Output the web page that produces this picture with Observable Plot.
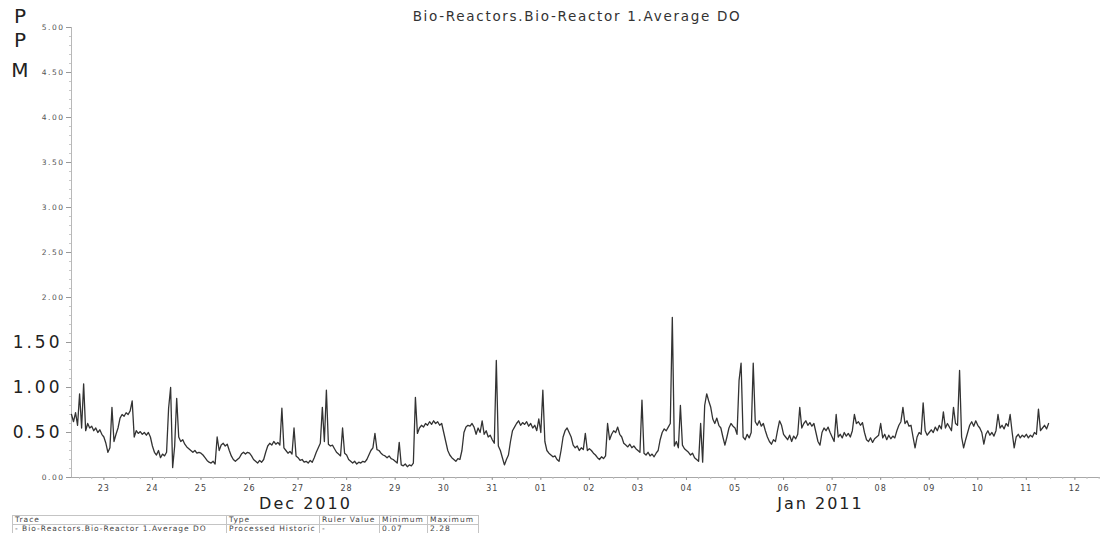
<!DOCTYPE html>
<html>
<head>
<meta charset="utf-8">
<script src="https://cdn.jsdelivr.net/npm/d3@7"></script>
<script src="https://cdn.jsdelivr.net/npm/@observablehq/plot@0.6"></script>
<style>
  html, body { margin: 0; padding: 0; background: #fff; overflow: hidden; }
  #wrap { position: relative; width: 1105px; height: 533px; overflow: hidden; font-family: "DejaVu Sans", Verdana, sans-serif; }
  #chart { position: absolute; left: 0; top: 0; }
  #title { position: absolute; left: 277px; width: 600px; top: 10px; text-align: center; font-size: 13.5px; line-height: 13.5px; letter-spacing: 1.7px; color: #333; white-space: nowrap; }
  .ppm { position: absolute; left: 5px; width: 30px; text-align: center; font-size: 20px; line-height: 20px; color: #222; }
  #tbl { position: absolute; left: 12px; top: 515px; border-collapse: collapse; table-layout: fixed; font-size: 7.5px; letter-spacing: 1px; color: #444; }
  #tbl td { border: 1px solid #c4c4c4; height: 8px; line-height: 8px; padding: 0 0 0 2px; white-space: nowrap; overflow: hidden; }
  g[font-size="17"] { letter-spacing: 3px; }
  g[font-size="7.5"] { letter-spacing: 1.5px; }
  g[font-size="8"] { letter-spacing: 1px; }
  g[font-size="16"] { letter-spacing: 2px; }
</style>
</head>
<body>
<div id="wrap">
  <div id="chart"></div>
  <div id="title"></div>
  <div id="ppm"></div>
  <table id="tbl"></table>
</div>
<script>
// ---- data: hourly readings (PPM), first sample 22 Dec 2010 08:00 ----
const firstSample = Date.UTC(2010, 11, 22, 8);
const dec22 = [0.70,0.62,0.72,0.58,0.93,0.55,1.04,0.52,0.60,0.55,0.57,0.52,0.55,0.50,0.53,0.48];
const dec23 = [0.45,0.38,0.28,0.33,0.78,0.40,0.48,0.55,0.66,0.70,0.68,0.72,0.70,0.74,0.85,0.45,0.52,0.49,0.51,0.48,0.50,0.47,0.50,0.45];
const dec24 = [0.35,0.28,0.25,0.30,0.22,0.26,0.24,0.28,0.77,1.00,0.11,0.35,0.88,0.45,0.40,0.42,0.37,0.34,0.32,0.30,0.28,0.30,0.27,0.28];
const dec25 = [0.27,0.25,0.22,0.19,0.17,0.16,0.18,0.15,0.45,0.30,0.36,0.38,0.35,0.37,0.30,0.24,0.20,0.18,0.20,0.22,0.26,0.28,0.26,0.28];
const dec26 = [0.27,0.24,0.20,0.18,0.16,0.19,0.17,0.20,0.28,0.35,0.38,0.36,0.40,0.37,0.39,0.36,0.77,0.33,0.30,0.27,0.29,0.26,0.55,0.24];
const dec27 = [0.22,0.19,0.20,0.17,0.18,0.16,0.19,0.17,0.22,0.28,0.33,0.38,0.78,0.40,0.97,0.37,0.35,0.36,0.32,0.28,0.26,0.24,0.55,0.27];
const dec28 = [0.25,0.20,0.18,0.16,0.18,0.15,0.17,0.16,0.18,0.17,0.20,0.25,0.30,0.33,0.49,0.31,0.30,0.27,0.25,0.24,0.22,0.24,0.21,0.20];
const dec29 = [0.18,0.16,0.39,0.14,0.13,0.15,0.12,0.14,0.13,0.16,0.89,0.49,0.55,0.58,0.56,0.60,0.58,0.62,0.59,0.63,0.60,0.62,0.58,0.60];
const dec30 = [0.50,0.40,0.30,0.25,0.22,0.20,0.18,0.21,0.20,0.30,0.50,0.56,0.58,0.57,0.60,0.56,0.48,0.55,0.50,0.63,0.48,0.52,0.45,0.47];
const dec31 = [0.42,0.38,1.30,0.35,0.30,0.22,0.14,0.20,0.25,0.40,0.52,0.56,0.60,0.63,0.58,0.61,0.59,0.62,0.57,0.60,0.55,0.58,0.52,0.65];
const jan01 = [0.50,0.97,0.40,0.30,0.27,0.25,0.23,0.24,0.20,0.18,0.30,0.45,0.52,0.55,0.50,0.45,0.36,0.33,0.35,0.30,0.33,0.31,0.49,0.30];
const jan02 = [0.32,0.30,0.27,0.25,0.22,0.20,0.23,0.21,0.24,0.60,0.42,0.48,0.52,0.50,0.56,0.48,0.45,0.38,0.36,0.34,0.37,0.33,0.35,0.32];
const jan03 = [0.30,0.28,0.86,0.27,0.25,0.28,0.24,0.26,0.23,0.27,0.30,0.42,0.50,0.54,0.52,0.56,0.60,1.78,0.35,0.40,0.33,0.80,0.36,0.32];
const jan04 = [0.30,0.28,0.25,0.27,0.22,0.20,0.18,0.60,0.17,0.80,0.93,0.85,0.78,0.65,0.60,0.66,0.58,0.55,0.45,0.36,0.45,0.55,0.60,0.57];
const jan05 = [0.55,0.48,1.08,1.27,0.45,0.42,0.48,0.44,0.50,1.27,0.62,0.58,0.63,0.57,0.60,0.52,0.45,0.40,0.37,0.42,0.40,0.52,0.63,0.58];
const jan06 = [0.48,0.45,0.42,0.47,0.40,0.46,0.43,0.48,0.78,0.55,0.60,0.63,0.58,0.61,0.57,0.60,0.50,0.40,0.36,0.50,0.55,0.52,0.56,0.50];
const jan07 = [0.45,0.40,0.70,0.45,0.48,0.44,0.50,0.46,0.49,0.45,0.52,0.70,0.60,0.62,0.58,0.61,0.50,0.42,0.40,0.44,0.39,0.43,0.45,0.47];
const jan08 = [0.60,0.44,0.48,0.42,0.47,0.43,0.46,0.44,0.52,0.58,0.62,0.78,0.60,0.63,0.57,0.58,0.45,0.33,0.45,0.50,0.48,0.83,0.52,0.47];
const jan09 = [0.50,0.53,0.50,0.56,0.52,0.58,0.54,0.73,0.55,0.60,0.56,0.52,0.78,0.60,0.58,1.19,0.45,0.33,0.42,0.50,0.58,0.62,0.57,0.63];
const jan10 = [0.58,0.55,0.50,0.37,0.48,0.52,0.47,0.50,0.46,0.52,0.70,0.55,0.58,0.54,0.60,0.57,0.70,0.50,0.33,0.45,0.48,0.44,0.47,0.45];
const jan11 = [0.48,0.44,0.47,0.45,0.50,0.48,0.76,0.52,0.55,0.58,0.54,0.60];

// ---- axis / text content ----
const titleText = "Bio-Reactors.Bio-Reactor 1.Average DO";
const yAxisLetters = ["P", "P", "M"];
const smallYTicks = [0, 2.0, 2.5, 3.0, 3.5, 4.0, 4.5, 5.0];
const bigYTicks = [0.5, 1.0, 1.5];
const monthLabels = [
  {date: new Date(Date.UTC(2010, 11, 27, 3, 40)), label: "Dec 2010"},
  {date: new Date(Date.UTC(2011, 0, 6, 18, 15)), label: "Jan 2011"}
];
const tableHeader = ["Trace", "Type", "Ruler Value", "Minimum", "Maximum"];
const tableRow = ["-  Bio-Reactors.Bio-Reactor 1.Average DO", "Processed Historic", "-", "0.07", "2.28"];
const tableColWidths = [214, 93, 60, 48, 51];

// ---- build ----
const values = [].concat(dec22, dec23, dec24, dec25, dec26, dec27, dec28, dec29, dec30, dec31,
  jan01, jan02, jan03, jan04, jan05, jan06, jan07, jan08, jan09, jan10, jan11);
const data = values.map((v, i) => ({t: new Date(firstSample + i * 3600e3), v}));

const xDomain = [new Date(Date.UTC(2010, 11, 22, 8)), new Date(Date.UTC(2011, 0, 12, 12, 40))];
const dayTicks = d3.utcDay.range(new Date(Date.UTC(2010, 11, 23)), new Date(Date.UTC(2011, 0, 12, 1)));
const minorX = d3.utcHour.every(6).range(xDomain[0], xDomain[1]);
const minorY = d3.range(0, 51).map(i => i / 10);

const plot = Plot.plot({
  width: 1105,
  height: 533,
  marginLeft: 71,
  marginRight: 5,
  marginTop: 27,
  marginBottom: 56,
  style: {fontFamily: "DejaVu Sans, Verdana, sans-serif", background: "transparent", overflow: "visible"},
  x: {type: "utc", domain: xDomain, axis: null, label: null},
  y: {domain: [0, 5], axis: null, label: null},
  marks: [
    Plot.ruleX([xDomain[0]], {stroke: "#b8b8b8"}),
    Plot.axisY(minorY, {tickSize: 2, text: null, stroke: "#c8c8c8", label: null}),
    Plot.axisY(smallYTicks.concat(bigYTicks), {tickSize: 5, text: null, stroke: "#999", label: null}),
    Plot.axisY(smallYTicks, {tickSize: 0, tickPadding: 7, tickFormat: d3.format(".2f"), fontSize: 7.5, fill: "#555", label: null}),
    Plot.axisY(bigYTicks, {tickSize: 0, tickPadding: 9, tickFormat: d3.format(".2f"), fontSize: 17, fill: "#222", label: null}),
    Plot.ruleY([0], {stroke: "#a8a8a8"}),
    Plot.axisX(minorX, {tickSize: 2, text: null, stroke: "#c0c0c0", label: null}),
    Plot.axisX(dayTicks, {tickSize: 3, text: null, stroke: "#999", label: null}),
    Plot.axisX(dayTicks, {tickSize: 0, tickPadding: 8, tickFormat: d3.utcFormat("%d"), fontSize: 8, fill: "#444", label: null}),
    Plot.text(monthLabels, {x: "date", y: 0, text: "label", dy: 26, fontSize: 16, fill: "#222"}),
    Plot.line(data, {x: "t", y: "v", stroke: "#333", strokeWidth: 1.3})
  ]
});
document.getElementById("chart").appendChild(plot);

document.getElementById("title").textContent = titleText;
const ppm = document.getElementById("ppm");
yAxisLetters.forEach((ch, i) => {
  const d = document.createElement("div");
  d.className = "ppm";
  d.style.top = [6, 30, 60][i] + "px";
  d.textContent = ch;
  ppm.appendChild(d);
});

const tbl = document.getElementById("tbl");
const cg = document.createElement("colgroup");
tableColWidths.forEach(w => { const c = document.createElement("col"); c.style.width = w + "px"; cg.appendChild(c); });
tbl.appendChild(cg);
[tableHeader, tableRow].forEach(row => {
  const tr = document.createElement("tr");
  row.forEach(cell => { const td = document.createElement("td"); td.textContent = cell; tr.appendChild(td); });
  tbl.appendChild(tr);
});
</script>
</body>
</html>
